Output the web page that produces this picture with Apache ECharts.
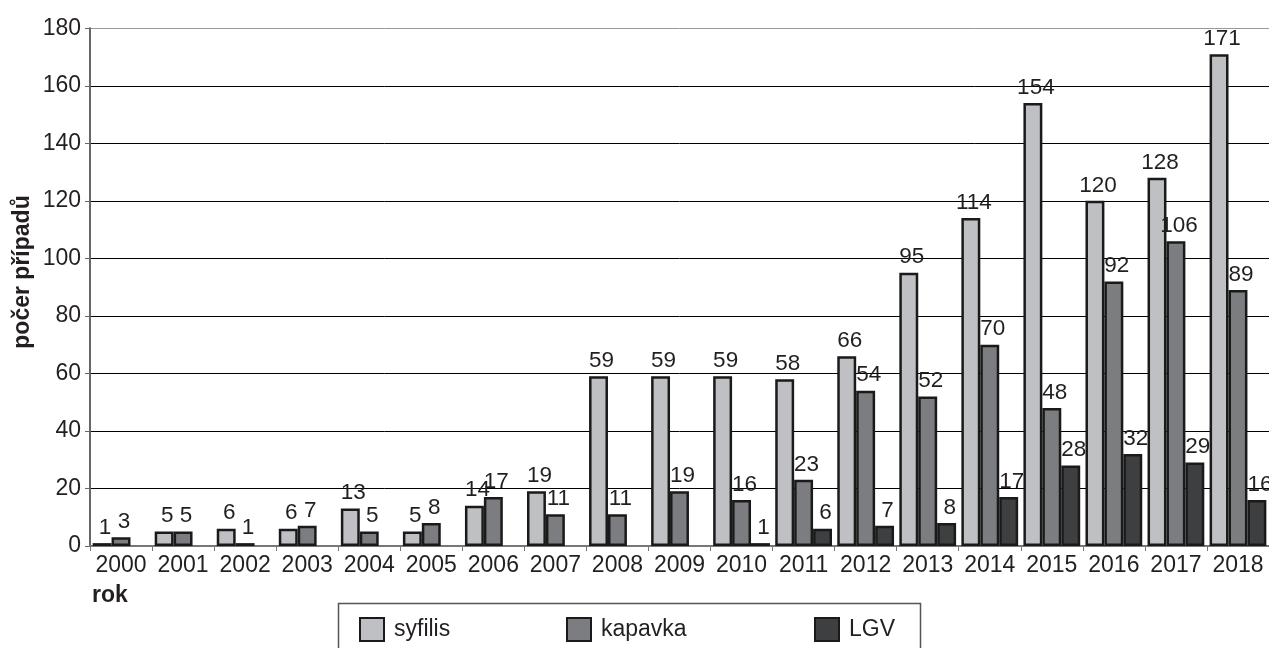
<!DOCTYPE html>
<html>
<head>
<meta charset="utf-8">
<script src="https://cdn.jsdelivr.net/npm/echarts@6/dist/echarts.min.js"></script>
<style>
  html, body { margin: 0; padding: 0; background: #fff; }
  #chart { width: 1269px; height: 648px; }
</style>
</head>
<body>
<div id="chart"></div>
<script>
const YEARS = ['2000', '2001', '2002', '2003', '2004', '2005', '2006', '2007', '2008', '2009',
  '2010', '2011', '2012', '2013', '2014', '2015', '2016', '2017', '2018'];
const SYFILIS = [1, 5, 6, 6, 13, 5, 14, 19, 59, 59, 59, 58, 66, 95, 114, 154, 120, 128, 171];
const KAPAVKA = [3, 5, 1, 7, 5, 8, 17, 11, 11, 19, 16, 23, 54, 52, 70, 48, 92, 106, 89];
const LGV = [null, null, null, null, null, null, null, null, null, null, 1, 6, 7, 8, 17, 28, 32, 29, 16];
const Y_TICKS = [0, 20, 40, 60, 80, 100, 120, 140, 160, 180];

const FONT = 'Liberation Sans, Arial, sans-serif';
const INK = '#231f20';

const chart = echarts.init(document.getElementById('chart'));

const barSeries = (name, data, color) => ({
  name: name,
  type: 'bar',
  data: data,
  barGap: 0,
  barCategoryGap: '8.5%',
  itemStyle: { color: color, borderColor: '#1a1a1a', borderWidth: 2.5 },
  label: {
    show: true,
    position: 'top',
    distance: 4,
    offset: [3, 0],
    color: INK,
    fontFamily: FONT,
    fontSize: 22.5
  },
  emphasis: { disabled: true }
});

const legendItem = (name, left) => ({
  data: [name],
  left: left,
  top: 617,
  icon: 'rect',
  itemWidth: 24,
  itemHeight: 23,
  padding: 0,
  textStyle: { fontFamily: FONT, fontSize: 23, color: INK, padding: [0, 0, 0, 5] }
});

chart.setOption({
  animation: false,
  grid: { left: 90, right: -5, top: 28.3, bottom: 102 },
  legend: [
    legendItem('syfilis', 359),
    legendItem('kapavka', 566),
    legendItem('LGV', 814)
  ],
  graphic: [
    {
      type: 'rect',
      shape: { x: 338.5, y: 603.5, width: 582, height: 60 },
      style: { fill: 'none', stroke: '#555', lineWidth: 1.5 },
      z: 0
    },
    {
      type: 'text',
      x: 23,
      y: 272,
      rotation: Math.PI / 2,
      style: {
        text: 'počer případů',
        font: 'bold 23px ' + FONT,
        fill: INK,
        align: 'center',
        verticalAlign: 'middle'
      }
    },
    {
      type: 'text',
      left: 92,
      top: 584,
      style: { text: 'rok', font: 'bold 23px ' + FONT, fill: INK }
    }
  ],
  xAxis: {
    type: 'category',
    data: YEARS,
    axisLine: { lineStyle: { color: '#777', width: 2 } },
    axisTick: { show: true, length: 5, lineStyle: { color: '#777' } },
    axisLabel: { color: INK, fontFamily: FONT, fontSize: 23, margin: 8, interval: 0 }
  },
  yAxis: {
    type: 'value',
    min: Y_TICKS[0],
    max: Y_TICKS[Y_TICKS.length - 1],
    interval: 20,
    axisLine: { show: true, lineStyle: { color: '#666', width: 2 } },
    axisTick: { show: true, length: 5, lineStyle: { color: '#666' } },
    axisLabel: { color: INK, fontFamily: FONT, fontSize: 23, margin: 9 },
    splitLine: {
      lineStyle: {
        color: ['#000', '#000', '#000', '#000', '#000', '#000', '#000', '#000', '#000', '#999'],
        width: 1
      }
    }
  },
  series: [
    barSeries('syfilis', SYFILIS, '#bfc0c3'),
    barSeries('kapavka', KAPAVKA, '#7c7d81'),
    barSeries('LGV', LGV, '#3e3f41')
  ]
});
</script>
</body>
</html>
